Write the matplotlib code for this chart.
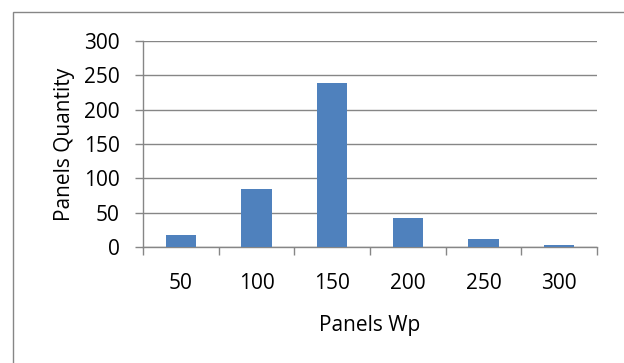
import matplotlib.pyplot as plt
from matplotlib.patches import Rectangle
import numpy as np

# Anzahl der Module je Nennleistung
wp_labels = ['50', '100', '150', '200', '250', '300']
quantities = [18, 85, 239, 42, 11, 3]

plt.rcParams['font.family'] = ['Open Sans', 'DejaVu Sans']
grey = '#868686'

fig = plt.figure(figsize=(6.24, 3.63), dpi=100)
ax = fig.add_axes([143 / 624, 1 - 247 / 363, (597 - 143) / 624, (247 - 41) / 363])

x = np.arange(len(wp_labels))
ax.bar(x, quantities, width=0.4, color='#4F81BD', zorder=3)

ax.set_xlim(-0.5, len(wp_labels) - 0.5)
ax.set_ylim(0, 300)
ax.set_yticks(range(0, 301, 50))
ax.yaxis.grid(True, color=grey, linewidth=1, zorder=0)

# Kategorie-Grenzen als Teilstriche, Beschriftung mittig
ax.set_xticks(x)
ax.set_xticklabels(wp_labels)
ax.set_xticks(np.arange(-0.5, len(wp_labels)), minor=True)
ax.tick_params(axis='x', which='major', length=0, pad=19, labelsize=15)
ax.tick_params(axis='x', which='minor', length=5.8, width=1, color=grey, direction='out')
ax.tick_params(axis='y', length=5.8, width=1, color=grey, pad=11, labelsize=15)

for side in ['top', 'right']:
    ax.spines[side].set_visible(False)
for side in ['left', 'bottom']:
    ax.spines[side].set_color(grey)
    ax.spines[side].set_linewidth(1)

ax.set_xlabel('Panels Wp', fontsize=15, labelpad=15)
ax.set_ylabel('Panels Quantity', fontsize=15, labelpad=6)

# Rahmen um das Diagramm
fig.patches.append(Rectangle((13 / 624, -0.1), 1.2, 1 - 12 / 363 + 0.1,
                             transform=fig.transFigure, fill=False,
                             edgecolor=grey, linewidth=1))

fig.savefig('out.png', dpi=100)
